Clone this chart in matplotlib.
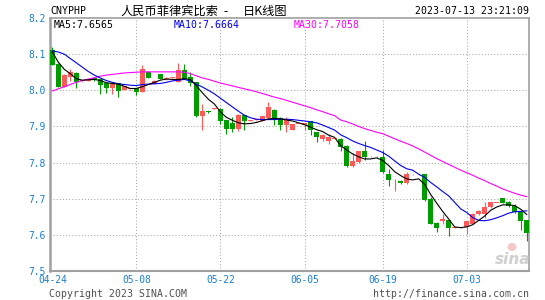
import matplotlib
matplotlib.use('Agg')
import matplotlib.pyplot as plt
from matplotlib.patches import Ellipse
import pandas as pd

# ---------------- data ----------------
all_days = pd.date_range('2023-04-24', '2023-07-13')
dates = [d.strftime('%m-%d') for d in all_days if d.strftime('%m-%d') != '06-08']

opens = [8.111,8.074,8.009,8.037,8.049,8.025,8.026,8.034,8.030,8.020,
         8.005,8.020,8.002,8.003,8.005,7.995,8.051,8.018,8.044,8.030,
         8.034,8.023,8.056,8.037,8.023,7.928,7.941,7.948,7.949,7.917,
         7.909,7.892,7.931,7.916,7.917,7.915,7.924,7.946,7.924,7.903,
         7.891,7.907,7.903,7.915,7.884,7.866,7.861,7.866,7.866,7.847,
         7.790,7.801,7.832,7.817,7.817,7.815,7.767,7.745,7.750,7.743,
         7.767,7.767,7.767,7.699,7.634,7.639,7.641,7.620,7.620,7.622,
         7.630,7.657,7.657,7.676,7.688,7.702,7.690,7.681,7.662,7.641]
highs = [8.120,8.076,8.046,8.060,8.050,8.027,8.031,8.035,8.031,8.021,
         8.021,8.021,8.011,8.004,8.006,8.069,8.052,8.028,8.045,8.036,
         8.036,8.076,8.072,8.051,8.024,7.961,7.942,7.951,7.950,7.918,
         7.926,7.935,7.932,7.918,7.918,7.929,7.968,7.947,7.926,7.926,
         7.908,7.908,7.910,7.916,7.885,7.880,7.880,7.867,7.867,7.848,
         7.826,7.833,7.861,7.818,7.818,7.835,7.782,7.755,7.751,7.773,
         7.768,7.768,7.768,7.704,7.635,7.659,7.642,7.621,7.621,7.638,
         7.660,7.668,7.690,7.691,7.689,7.703,7.694,7.685,7.663,7.642]
lows = [8.069,8.008,8.008,8.026,8.007,8.024,8.025,8.027,7.991,7.993,
        7.990,7.981,8.001,8.002,7.986,7.994,8.034,8.017,8.030,8.029,
        8.033,8.022,8.031,8.011,7.927,7.889,7.938,7.947,7.907,7.880,
        7.884,7.888,7.889,7.915,7.916,7.914,7.923,7.903,7.889,7.884,
        7.890,7.906,7.889,7.875,7.856,7.861,7.852,7.865,7.833,7.789,
        7.789,7.799,7.806,7.816,7.816,7.772,7.736,7.720,7.742,7.741,
        7.766,7.766,7.695,7.630,7.608,7.630,7.597,7.619,7.619,7.602,
        7.629,7.656,7.648,7.675,7.687,7.687,7.678,7.661,7.613,7.583]
closes = [8.069,8.009,8.042,8.051,8.023,8.026,8.030,8.028,8.014,8.005,
          8.020,7.999,8.011,8.004,7.995,8.060,8.035,8.027,8.031,8.035,
          8.035,8.056,8.032,8.020,7.928,7.943,7.939,7.950,7.914,7.894,
          7.892,7.932,7.914,7.917,7.917,7.928,7.954,7.924,7.903,7.917,
          7.907,7.907,7.909,7.889,7.870,7.875,7.870,7.866,7.844,7.790,
          7.804,7.832,7.815,7.817,7.817,7.773,7.753,7.746,7.743,7.769,
          7.767,7.767,7.696,7.630,7.620,7.644,7.620,7.620,7.620,7.637,
          7.659,7.667,7.678,7.690,7.688,7.688,7.681,7.662,7.639,7.604]

ma5 = [8.106,8.078,8.058,8.046,8.032,8.028,8.029,8.030,8.027,8.021,
       8.019,8.017,8.011,8.005,8.005,8.010,8.016,8.022,8.028,8.031,
       8.030,8.030,8.032,8.030,8.012,7.993,7.975,7.962,7.940,7.925,
       7.917,7.910,7.907,7.908,7.911,7.916,7.921,7.922,7.921,7.918,
       7.915,7.910,7.905,7.898,7.891,7.886,7.876,7.870,7.847,7.835,
       7.824,7.816,7.810,7.810,7.813,7.806,7.792,7.775,7.764,7.755,
       7.752,7.755,7.740,7.712,7.688,7.665,7.644,7.622,7.620,7.622,
       7.628,7.640,7.652,7.668,7.677,7.683,7.683,7.681,7.671,7.6565]
ma10 = [8.109,8.106,8.100,8.088,8.076,8.064,8.052,8.042,8.034,8.027,
        8.022,8.018,8.016,8.014,8.013,8.016,8.017,8.018,8.019,8.022,
        8.026,8.028,8.030,8.026,8.017,8.009,8.000,7.990,7.978,7.966,
        7.954,7.942,7.931,7.924,7.920,7.919,7.919,7.919,7.920,7.920,
        7.919,7.917,7.915,7.913,7.910,7.904,7.897,7.890,7.877,7.869,
        7.860,7.853,7.847,7.842,7.835,7.828,7.818,7.805,7.792,7.783,
        7.779,7.768,7.759,7.745,7.733,7.720,7.708,7.690,7.672,7.662,
        7.648,7.640,7.639,7.642,7.647,7.653,7.660,7.664,7.665,7.6664]
ma30 = [7.998,8.004,8.010,8.016,8.022,8.027,8.031,8.035,8.039,8.042,
        8.044,8.046,8.048,8.049,8.050,8.051,8.051,8.051,8.051,8.051,
        8.051,8.051,8.050,8.046,8.040,8.034,8.030,8.025,8.020,8.016,
        8.012,8.008,8.004,8.000,7.996,7.991,7.986,7.981,7.977,7.972,
        7.967,7.962,7.957,7.952,7.946,7.941,7.935,7.930,7.918,7.913,
        7.907,7.900,7.894,7.889,7.884,7.880,7.873,7.866,7.859,7.853,
        7.846,7.838,7.829,7.820,7.811,7.803,7.795,7.787,7.779,7.772,
        7.765,7.757,7.750,7.742,7.735,7.727,7.721,7.715,7.710,7.7058]

tick_labels = ['04-24', '05-08', '05-22', '06-05', '06-19', '07-03']
y_ticks = [7.5, 7.6, 7.7, 7.8, 7.9, 8.0, 8.1, 8.2]
y_tick_labels = ['7.5', '7.6', '7.7', '7.8', '7.9', '8.0', '8.1', '8.2']

# ---------------- drawing ----------------
W, H = 545, 300
fig = plt.figure(figsize=(W / 100, H / 100), dpi=100)
fig.patch.set_facecolor('white')
ax = fig.add_axes([50 / W, 1 - 271 / H, 479 / W, 253 / H])

UP = '#ff5a5a'
DOWN = '#009c00'
TICK_BLUE = '#1a7fd0'
MONO = 'DejaVu Sans Mono'

x = list(range(len(dates)))
n = len(x)
ax.set_xlim(-0.38, n - 1 + 0.38)
ax.set_ylim(7.5, 8.2)

# grid
for t in y_ticks[1:-1]:
    ax.axhline(t, color='#a8a8a8', lw=0.75, ls=(0, (1, 2)), zorder=0)
tick_pos = [dates.index(t) for t in tick_labels]
for p in tick_pos[1:]:
    ax.axvline(p, color='#a8a8a8', lw=0.75, ls=(0, (1, 2)), zorder=0)

# candles
for i in x:
    o, h, l, c = opens[i], highs[i], lows[i], closes[i]
    col = UP if c >= o else DOWN
    ax.vlines(i, l, h, color=col, lw=0.8, zorder=2)
    bottom = min(o, c)
    height = max(abs(c - o), 0.0025)
    ax.bar(i, height, width=0.8, bottom=bottom, color=col, linewidth=0, zorder=3)

# moving averages
ax.plot(x, ma30, color='#ff00ff', lw=0.8, zorder=4)
ax.plot(x, ma10, color='#0000ee', lw=0.8, zorder=4)
ax.plot(x, ma5, color='black', lw=0.8, zorder=5)

# axes styling
for s in ax.spines.values():
    s.set_color('#a0a0a0')
    s.set_linewidth(1.2)
ax.spines['left'].set_linewidth(1.8)
ax.spines['bottom'].set_linewidth(1.5)
ax.set_yticks(y_ticks)
ax.set_yticklabels(y_tick_labels)
ax.set_xticks(tick_pos)
ax.set_xticklabels(tick_labels)
ax.tick_params(length=0, colors=TICK_BLUE, labelsize=6.9, pad=3)
for lab in ax.get_xticklabels() + ax.get_yticklabels():
    lab.set_fontfamily(MONO)
    lab.set_color(TICK_BLUE)

def ftext(px, py, s, **kw):
    fig.text(px / W, 1 - py / H, s, va='center', **kw)

CJK = ['Noto Sans CJK SC', 'DejaVu Sans']
ftext(50, 11.5, 'CNYPHP', fontsize=7.1, family=MONO, color='black')
ftext(120, 11.5, '人民币菲律宾比索', fontsize=8.8, family=CJK, color='black')
ftext(226, 11.5, '-', fontsize=8.8, family=CJK, color='black', ha='center')
ftext(243, 11.5, '日K线图', fontsize=8.8, family=CJK, color='black')
ftext(529, 11.5, '2023-07-13 23:21:09', fontsize=7.1, family=MONO,
      color='black', ha='right')

ftext(54, 25, 'MA5:7.6565', fontsize=7.1, family=MONO, color='black')
ftext(174, 25, 'MA10:7.6664', fontsize=7.1, family=MONO, color='#0000ee')
ftext(294, 25, 'MA30:7.7058', fontsize=7.1, family=MONO, color='#ff00ff')

ftext(49, 294, 'Copyright 2023 SINA.COM', fontsize=7.1, family=MONO, color='#505050')
ftext(529, 294, 'http://finance.sina.com.cn', fontsize=7.1, family=MONO,
      color='#505050', ha='right')

# watermark
ftext(513, 260, 'sina', fontsize=11, family='DejaVu Sans', style='italic',
      weight='bold', color='#cfcfcf', ha='center', zorder=1)
fig.patches.append(Ellipse((512 / W, 1 - 247 / H), 9 / W, 8 / H,
                           transform=fig.transFigure,
                           facecolor='#f2c8c8', edgecolor='none'))

fig.savefig('out.png', dpi=100)
